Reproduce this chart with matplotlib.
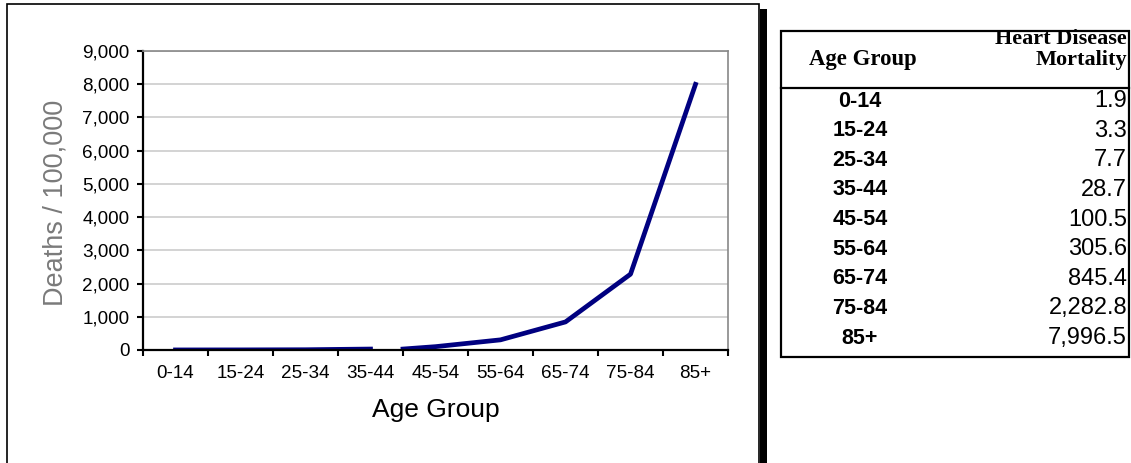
import numpy as np
import matplotlib
matplotlib.use("Agg")
import matplotlib.pyplot as plt
from matplotlib.patches import Rectangle
from matplotlib.lines import Line2D

# data
age_groups = ["0-14", "15-24", "25-34", "35-44", "45-54", "55-64", "65-74", "75-84", "85+"]
mortality = [1.9, 3.3, 7.7, 28.7, 100.5, 305.6, 845.4, 2282.8, 7996.5]
y_ticks = [0, 1000, 2000, 3000, 4000, 5000, 6000, 7000, 8000, 9000]
break_after = 3  # the line is broken after 35-44

W, H = 1131, 463
fig = plt.figure(figsize=(W / 100, H / 100), dpi=100)
fig.patch.set_facecolor("white")

def fx(px):
    return px / W

def fy(py):
    return 1 - py / H

sans = "Liberation Sans"
serif = "Liberation Serif"

# chart box with black shadow on the right
fig.patches.append(Rectangle((fx(7), fy(475)), fx(759) - fx(7), fy(4) - fy(475),
                             transform=fig.transFigure, fill=False, ec="black", lw=1.2))
fig.patches.append(Rectangle((fx(759.5), fy(463)), fx(767) - fx(759.5), fy(9) - fy(463),
                             transform=fig.transFigure, fc="black", ec="none"))

# the chart
ax = fig.add_axes([fx(143), fy(350), fx(728) - fx(143), fy(51) - fy(350)])
x = np.arange(len(age_groups))
vals = np.array(mortality)
ax.plot(x[:break_after + 1], vals[:break_after + 1], color="#000080", lw=3.4)
x2 = x[break_after:].astype(float)
x2[0] += 0.5
ax.plot(x2, vals[break_after:], color="#000080", lw=3.4)

ax.set_xlim(-0.5, len(age_groups) - 0.5)
ax.set_ylim(0, 9000)
ax.set_yticks(y_ticks)
ax.set_yticklabels([f"{v:,}" for v in y_ticks], fontsize=13.6, family=sans)
ax.set_xticks(np.arange(-0.5, len(age_groups), 1.0))
ax.set_xticklabels([])
ax.set_xticks(x, minor=True)
ax.set_xticklabels(age_groups, minor=True, fontsize=13.6, family=sans)
ax.tick_params(axis="x", which="major", direction="out", length=4, width=1.5)
ax.tick_params(axis="x", which="minor", length=0, pad=11)
ax.tick_params(axis="y", direction="out", length=4.5, width=1.5, pad=5)

ax.grid(axis="y", color="#cccccc", lw=1.2)
ax.set_axisbelow(True)
for s in ["top", "right"]:
    ax.spines[s].set_color("#888888")
    ax.spines[s].set_linewidth(1.2)
for s in ["left", "bottom"]:
    ax.spines[s].set_color("black")
    ax.spines[s].set_linewidth(1.6)

ax.set_ylabel("Deaths / 100,000", fontsize=19.5, family=sans, color="#7a7a7a")
ax.yaxis.set_label_coords((56 - 143) / 585, (350 - 203) / 299)
ax.set_xlabel("Age Group", fontsize=19, family=sans)
ax.xaxis.set_label_coords(0.5, (350 - 410) / 299)
ax.xaxis.label.set_va("center")
ax.yaxis.label.set_va("center")

# the table
t_left, t_right, t_top, t_bot, t_head = 781, 1129, 31, 357, 88
fig.patches.append(Rectangle((fx(t_left), fy(t_bot)), fx(t_right) - fx(t_left), fy(t_top) - fy(t_bot),
                             transform=fig.transFigure, fill=False, ec="black", lw=1.6))
fig.lines.append(Line2D([fx(t_left), fx(t_right)], [fy(t_head), fy(t_head)],
                        transform=fig.transFigure, color="black", lw=1.6))

fig.text(fx(1127), fy(44), "Heart Disease", ha="right", va="baseline",
         fontsize=16, family=serif, weight="bold")
fig.text(fx(1127), fy(65), "Mortality", ha="right", va="baseline",
         fontsize=16, family=serif, weight="bold")
fig.text(fx(863), fy(65), "Age Group", ha="center", va="baseline",
         fontsize=16.4, family=serif, weight="bold")

row_y = np.linspace(101, 338, len(age_groups))
for ry, grp, v in zip(row_y, age_groups, mortality):
    fig.text(fx(860), fy(ry), grp, ha="center", va="center",
             fontsize=15.5, family=sans, weight="bold")
    fig.text(fx(1127), fy(ry), f"{v:,.1f}", ha="right", va="center",
             fontsize=17, family=sans)

fig.savefig("out.png", dpi=100)
